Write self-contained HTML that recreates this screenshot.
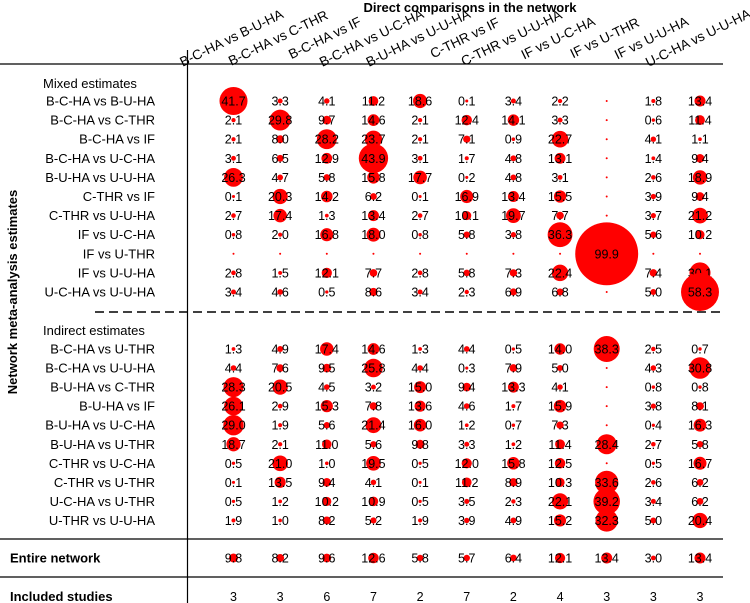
<!DOCTYPE html>
<html><head><meta charset="utf-8"><style>
html,body{margin:0;padding:0;background:#fff}
svg{display:block;font-family:"Liberation Sans",Arial,sans-serif}
</style></head><body>
<svg id="chart" width="750" height="603" viewBox="0 0 750 603"></svg>
<script>
const columns=["B-C-HA vs B-U-HA","B-C-HA vs C-THR","B-C-HA vs IF","B-C-HA vs U-C-HA","B-U-HA vs U-U-HA","C-THR vs IF","C-THR vs U-U-HA","IF vs U-C-HA","IF vs U-THR","IF vs U-U-HA","U-C-HA vs U-U-HA"];
const mixedRows=["B-C-HA vs B-U-HA","B-C-HA vs C-THR","B-C-HA vs IF","B-C-HA vs U-C-HA","B-U-HA vs U-U-HA","C-THR vs IF","C-THR vs U-U-HA","IF vs U-C-HA","IF vs U-THR","IF vs U-U-HA","U-C-HA vs U-U-HA"];
const mixedValues=[
[41.7,3.3,4.1,11.2,18.6,0.1,3.4,2.2,null,1.8,13.4],
[2.1,29.8,9.7,14.6,2.1,12.4,14.1,3.3,null,0.6,11.4],
[2.1,8.0,28.2,23.7,2.1,7.1,0.9,22.7,null,4.1,1.1],
[3.1,6.5,12.9,43.9,3.1,1.7,4.8,13.1,null,1.4,9.4],
[26.3,4.7,5.8,15.8,17.7,0.2,4.8,3.1,null,2.6,18.9],
[0.1,20.3,14.2,6.2,0.1,16.9,13.4,15.5,null,3.9,9.4],
[2.7,17.4,1.3,13.4,2.7,10.1,19.7,7.7,null,3.7,21.2],
[0.8,2.0,16.8,18.0,0.8,5.8,3.8,36.3,null,5.6,10.2],
[null,null,null,null,null,null,null,null,99.9,null,null],
[2.8,1.5,12.1,7.7,2.8,5.8,7.3,22.4,null,7.4,30.1],
[3.4,4.6,0.5,8.6,3.4,2.3,6.9,6.8,null,5.0,58.3]];
const indirectRows=["B-C-HA vs U-THR","B-C-HA vs U-U-HA","B-U-HA vs C-THR","B-U-HA vs IF","B-U-HA vs U-C-HA","B-U-HA vs U-THR","C-THR vs U-C-HA","C-THR vs U-THR","U-C-HA vs U-THR","U-THR vs U-U-HA"];
const indirectValues=[
[1.3,4.9,17.4,14.6,1.3,4.4,0.5,14.0,38.3,2.5,0.7],
[4.4,7.6,9.5,25.8,4.4,0.3,7.9,5.0,null,4.3,30.8],
[28.3,20.5,4.5,3.2,15.0,9.4,13.3,4.1,null,0.8,0.8],
[26.1,2.9,15.3,7.8,13.6,4.6,1.7,15.9,null,3.8,8.1],
[29.0,1.9,5.6,21.4,16.0,1.2,0.7,7.3,null,0.4,16.3],
[18.7,2.1,11.0,5.6,9.8,3.3,1.2,11.4,28.4,2.7,5.8],
[0.5,21.0,1.0,19.5,0.5,12.0,15.8,12.5,null,0.5,16.7],
[0.1,13.5,9.4,4.1,0.1,11.2,8.9,10.3,33.6,2.6,6.2],
[0.5,1.2,10.2,10.9,0.5,3.5,2.3,22.1,39.2,3.4,6.2],
[1.9,1.0,8.2,5.2,1.9,3.9,4.9,15.2,32.3,5.0,20.4]];
const entireNetwork=[9.8,8.2,9.6,12.6,5.8,5.7,6.4,12.1,13.4,3.0,13.4];
const includedStudies=[3,3,6,7,2,7,2,4,3,3,3];

const svg=document.getElementById('chart');
const NS='http://www.w3.org/2000/svg';
function mk(tag,attrs,text){const e=document.createElementNS(NS,tag);for(const k in attrs)e.setAttribute(k,attrs[k]);if(text!==undefined)e.textContent=text;svg.appendChild(e);return e;}
const colX=i=>233.5+i*46.65;
const mixedY=i=>101+i*19.1;
const indirectY=i=>349+i*19.05;
const rad=v=>v===null?1:1.5+0.3*v;

let t=mk('text',{x:470,y:12,'text-anchor':'middle','font-size':13,'font-weight':'bold'},'Direct comparisons in the network');

t=mk('text',{transform:'translate(17,292) rotate(-90)','text-anchor':'middle','font-size':13,'font-weight':'bold'},'Network meta-analysis estimates');


columns.forEach((c,i)=>{const e=mk('text',{transform:`translate(${colX(i)},42) rotate(-26)`,'text-anchor':'middle','font-size':13.5},c);
});

let l=mk('line',{x1:0,y1:64,x2:723,y2:64,stroke:'#000','stroke-width':1.2});
l=mk('line',{x1:187.5,y1:50,x2:187.5,y2:603,stroke:'#000','stroke-width':1.2});
l=mk('line',{x1:95,y1:312,x2:723,y2:312,stroke:'#000','stroke-width':1.5,'stroke-dasharray':'9,5'});
l=mk('line',{x1:0,y1:539,x2:723,y2:539,stroke:'#000','stroke-width':1.2});
l=mk('line',{x1:0,y1:577,x2:723,y2:577,stroke:'#000','stroke-width':1.2});

t=mk('text',{x:43,y:88,'font-size':13},'Mixed estimates');
t=mk('text',{x:43,y:335,'font-size':13},'Indirect estimates');

function drawRow(label,vals,y,bold){
  const lt=mk('text',{x:bold?10:155,y:y+4.5,'text-anchor':bold?'start':'end','font-size':13,'font-weight':bold?'bold':'normal'},label);
  
  vals.forEach((v,i)=>{
    const c=mk('circle',{cx:colX(i),cy:y,r:rad(v),fill:'#f00'});
    
    if(v!==null){const vt=mk('text',{x:colX(i),y:y+4.5,'text-anchor':'middle','font-size':12.5},v.toFixed(1));
      }
  });
}
mixedRows.forEach((r,i)=>drawRow(r,mixedValues[i],mixedY(i),false));
indirectRows.forEach((r,i)=>drawRow(r,indirectValues[i],indirectY(i),false));
drawRow('Entire network',entireNetwork,558,true);
t=mk('text',{x:10,y:601,'font-size':13,'font-weight':'bold'},'Included studies');
includedStudies.forEach((v,i)=>{const e=mk('text',{x:colX(i),y:601,'text-anchor':'middle','font-size':12.5},String(v));
});
</script>
</body></html>
